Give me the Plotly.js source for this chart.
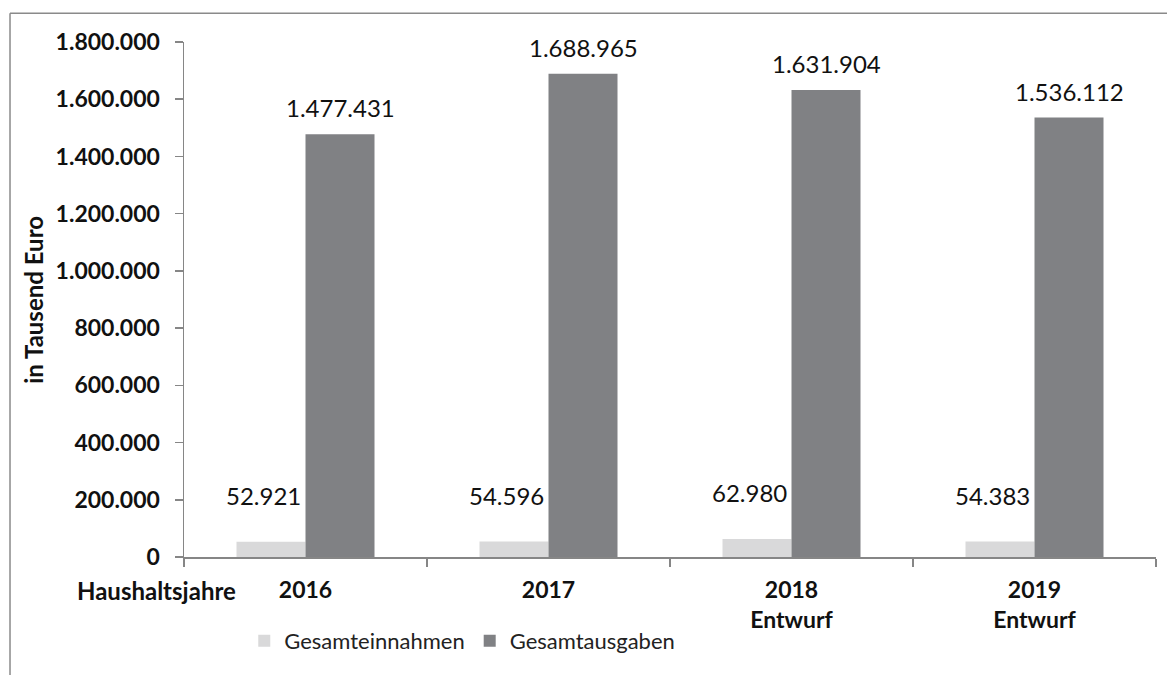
<!DOCTYPE html>
<html>
<head>
<meta charset="utf-8">
<script src="https://cdn.plot.ly/plotly-3.0.1.min.js"></script>
<style>html,body{margin:0;padding:0;background:#fff;}#chart{width:1167px;height:675px;}</style>
</head>
<body>
<div id="chart"></div>
<script>
const categories = ["2016", "2017", "2018", "2019"];
const tickLabels = ["2016", "2017", "2018<br>Entwurf", "2019<br>Entwurf"];
const einnahmen = [52921, 54596, 62980, 54383];
const ausgaben = [1477431, 1688965, 1631904, 1536112];
const seriesNames = ["Gesamteinnahmen", "Gesamtausgaben"];
const yTicks = [0, 200000, 400000, 600000, 800000, 1000000, 1200000, 1400000, 1600000, 1800000];

const FONT = "Lato, 'Open Sans', sans-serif";
const fmt = v => v.toLocaleString('de-DE');

const traces = [
  {type: 'bar', name: seriesNames[0], x: categories, y: einnahmen,
   marker: {color: '#d9d9da'}, hoverinfo: 'skip'},
  {type: 'bar', name: seriesNames[1], x: categories, y: ausgaben,
   marker: {color: '#808184'}, hoverinfo: 'skip'}
];

const annotations = [];
categories.forEach((c, i) => {
  annotations.push({x: i, y: einnahmen[i], xref: 'x', yref: 'y', text: fmt(einnahmen[i]),
    showarrow: false, xshift: -42, yshift: 46, yanchor: 'middle',
    font: {family: FONT, size: 24, color: '#111'}});
  annotations.push({x: i, y: ausgaben[i], xref: 'x', yref: 'y', text: fmt(ausgaben[i]),
    showarrow: false, xshift: 34.5, yshift: 10, yanchor: 'bottom',
    font: {family: FONT, size: 24, color: '#111'}});
});
annotations.push({xref: 'paper', yref: 'paper', x: -0.155, y: 0.5, text: '<b>in Tausend Euro</b>',
  textangle: -90, showarrow: false, xanchor: 'center', yanchor: 'middle',
  font: {family: FONT, size: 24, color: '#111'}});
annotations.push({xref: 'paper', yref: 'paper', x: 0.0556, y: -0.066, text: '<b>Haushaltsjahre</b>',
  showarrow: false, xanchor: 'right', yanchor: 'middle',
  font: {family: FONT, size: 24, color: '#111'}});

const layout = {
  width: 1167, height: 675,
  margin: {l: 184, r: 11, t: 42, b: 118},
  paper_bgcolor: '#fff', plot_bgcolor: '#fff',
  separators: ',.',
  barmode: 'group', bargap: 0.432, bargroupgap: 0,
  font: {family: FONT, color: '#111'},
  showlegend: true,
  legend: {orientation: 'h', x: 0.062, xanchor: 'left', y: -0.163, yanchor: 'middle',
    font: {family: FONT, size: 22, color: '#222'}, itemwidth: 30},
  xaxis: {type: 'category', range: [-0.5, 3.5], tickvals: categories, ticktext: tickLabels,
    showline: true, linecolor: '#868686', linewidth: 1.5,
    ticks: 'outside', tickson: 'boundaries', ticklen: 8, tickcolor: '#868686', tickwidth: 1.5,
    ticklabelstandoff: 12,
    showgrid: false, zeroline: false,
    tickfont: {family: FONT, size: 23, color: '#111', weight: 'bold'}},
  yaxis: {range: [0, 1800000], tickvals: yTicks, tickformat: ',d',
    showline: true, linecolor: '#868686', linewidth: 1.5,
    ticks: 'outside', ticklen: 8, tickcolor: '#868686', tickwidth: 1.5,
    ticklabelstandoff: 10,
    showgrid: false, zeroline: false,
    tickfont: {family: FONT, size: 23, color: '#111', weight: 'bold'}},
  annotations: annotations,
  shapes: [
    {type: 'line', xref: 'paper', yref: 'paper', x0: -0.179, x1: 1.02, y0: 1.056, y1: 1.056,
      line: {color: '#8a8a8a', width: 1.5}},
    {type: 'line', xref: 'paper', yref: 'paper', x0: -0.179, x1: -0.179, y0: 1.056, y1: -0.24,
      line: {color: '#8a8a8a', width: 1.5}}
  ]
};

Plotly.newPlot('chart', traces, layout, {displayModeBar: false, staticPlot: true});
</script>
</body>
</html>
